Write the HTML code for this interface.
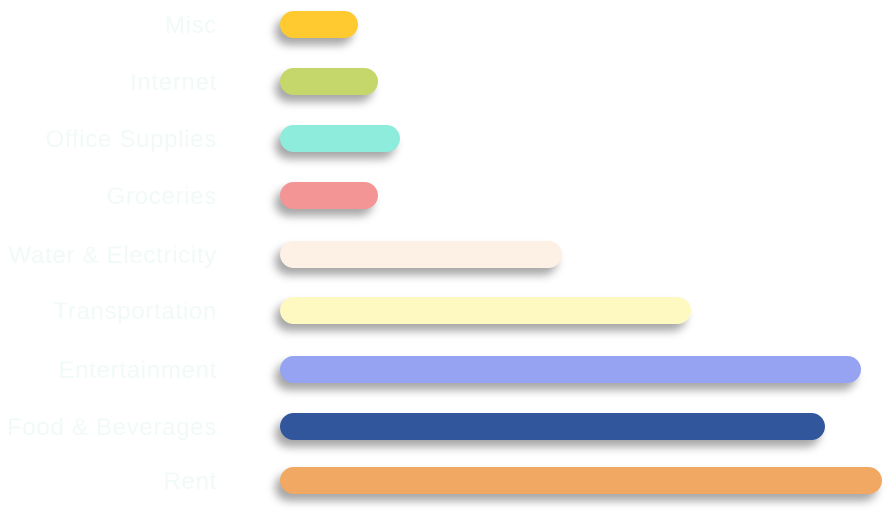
<!DOCTYPE html>
<html><head><meta charset="utf-8"><style>
html,body{margin:0;padding:0;background:#fff;width:891px;height:516px;overflow:hidden;font-family:"Liberation Sans",sans-serif}
#chart{position:relative;width:891px;height:516px}
.lbl{position:absolute;right:674px;font-size:24px;letter-spacing:0.7px;color:#f1faf6;white-space:nowrap;line-height:28px}
.bar{position:absolute;height:27px;border-radius:14px;box-shadow:-5px 7px 9px rgba(0,0,0,0.35)}
</style></head><body>
<div id="chart"></div>
<script>
const categories=["Misc","Internet","Office Supplies","Groceries","Water & Electricity","Transportation","Entertainment","Food & Beverages","Rent"];
const values=[78,98,120,98,282,411,581,545,602];
const colors=["#ffc930","#c5d66b","#8decdc","#f39595","#fdf0e4","#fef9c0","#95a3f2","#32569c","#f0a862"];
const yCenters=[24,81,138,195,254,310,369,426,480];
const x0=280, pxPerUnit=1.0;
function xs(v){return v*pxPerUnit;}
const chart=document.getElementById('chart');
categories.forEach((c,i)=>{
  const l=document.createElement('div');
  l.className='lbl';
  
  
  l.textContent=c;
  l.style.top=(yCenters[i]-12)+'px';
  chart.appendChild(l);
  const b=document.createElement('div');
  b.className='bar';
  
  
  b.style.left=x0+'px';
  b.style.top=(yCenters[i]-13)+'px';
  b.style.width=xs(values[i])+'px';
  b.style.background=colors[i];
  chart.appendChild(b);
});
</script>
</body></html>
